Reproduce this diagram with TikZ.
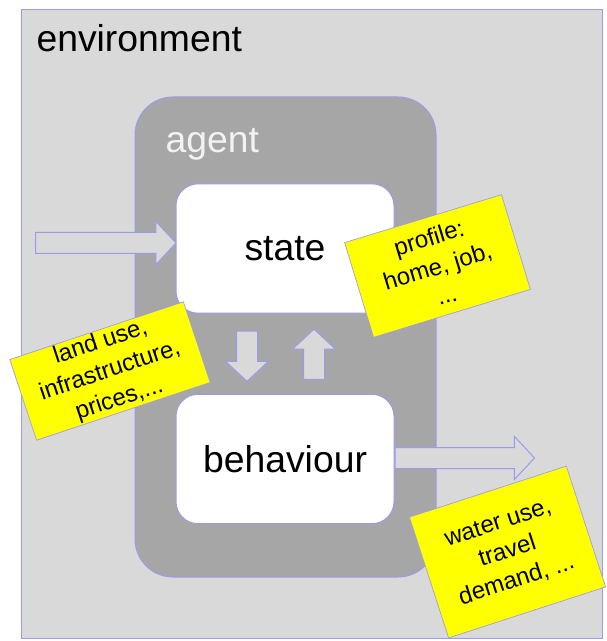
\documentclass[tikz,border=0pt]{standalone}
\usepackage{fontspec}
\setmainfont{Liberation Sans}
\usetikzlibrary{shapes.arrows,calc}

\definecolor{envfill}{RGB}{217,217,217}
\definecolor{agentfill}{RGB}{166,166,166}
\definecolor{edgeblue}{RGB}{155,155,238}
\definecolor{noteyellow}{RGB}{255,255,0}
\definecolor{agenttext}{RGB}{242,242,242}

\tikzset{every picture/.style={line width=0.75pt}}
\tikzset{
  bigfont/.style={font=\fontsize{28}{34}\selectfont},
  notefont/.style={font=\fontsize{18}{22.5}\selectfont},
  roundbox/.style={draw=edgeblue, fill=white, rounded corners=16.5pt, minimum width=163.5pt, minimum height=97pt, inner sep=0pt, bigfont},
  stickynote/.style={draw=edgeblue, line width=0.5pt, fill=noteyellow, inner sep=0pt, align=center, notefont},
  blockarrow/.style={to path={let \p1=($(\tikztotarget)-(\tikztostart)$) in
      node[single arrow, draw=edgeblue, fill=envfill, inner xsep=0pt, inner ysep=7.5pt,
        single arrow head extend=8.25pt, single arrow tip angle=94,
        minimum height={veclen(\x1,\y1)}, rotate={atan2(-\y1,\x1)}, anchor=tail] at (\tikztostart) {}}}
}

\begin{document}
\begin{tikzpicture}[x=0.75pt,y=0.75pt,yscale=-1,xscale=1]
    \useasboundingbox (0,0) rectangle (606,641);

    %Shape: Rectangle [environment]
    \node[draw=edgeblue, fill=envfill, minimum width=435.75pt, minimum height=471pt, inner sep=0pt] (env) at (311.5,324) {};
    % Text Node
    \node[bigfont, anchor=base west, inner sep=0pt] (envlabel) at (36,52) {environment};

    %Shape: Rounded Rect [agent]
    \node[draw=edgeblue, fill=agentfill, rounded corners=28.5pt, minimum width=225.75pt, minimum height=360pt, inner sep=0pt] (agent) at (285.5,337) {};
    % Text Node
    \node[bigfont, text=agenttext, anchor=base west, inner sep=0pt] (agentlabel) at (165,153) {agent};

    %Shape: Rounded Rect [state, behaviour]
    \node[roundbox] (state) at (285,248.5) {state};
    \node[roundbox] (behaviour) at (285,459) {behaviour};

    %Block Arrows
    \coordinate (input) at (35,243);
    \coordinate (output) at (534,458);
    \coordinate (downtop) at ($(state.south)+(-38,17)$);
    \coordinate (downend) at ($(behaviour.north)+(-38,-13)$);
    \coordinate (uptop) at ($(state.south)+(29,16)$);
    \coordinate (upend) at ($(behaviour.north)+(29,-14)$);
    \path[blockarrow] (input) to (input -| state.west);
    \path[blockarrow] (downtop) to (downend);
    \path[blockarrow] (upend) to (uptop);
    \path[blockarrow] (behaviour.east |- output) to (output);

    %Shape: Notes
    \node[stickynote, minimum width=123pt, minimum height=74.25pt, rotate=17] (profile) at (437.5,266) {profile:\\home, job,\\...};
    \node[stickynote, minimum width=137.25pt, minimum height=63.75pt, rotate=18.4] (landuse) at (110,371) {land use,\\infrastructure,\\prices,...};
    \node[stickynote, minimum width=123.75pt, minimum height=95.25pt, rotate=18] (demand) at (507.5,552) {water use,\\travel\\demand, ...};

\end{tikzpicture}
\end{document}
